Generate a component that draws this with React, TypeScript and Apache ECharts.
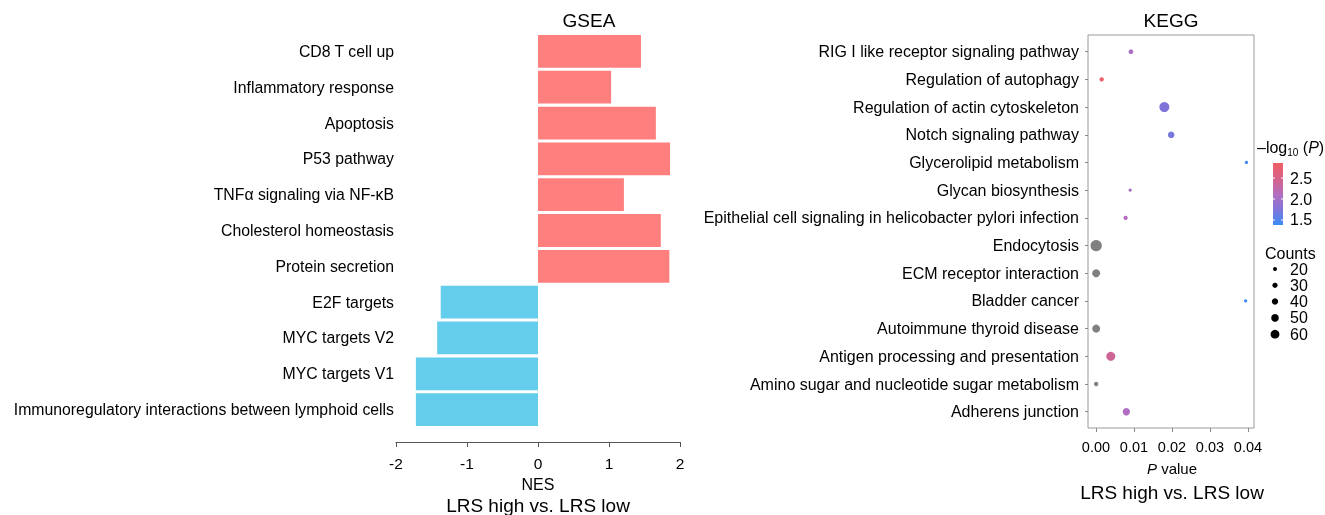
import React, { useEffect, useRef } from "react";
import * as echarts from "echarts";

const gseaTerms = [
  "CD8 T cell up",
  "Inflammatory response",
  "Apoptosis",
  "P53 pathway",
  "TNFα signaling via NF-κB",
  "Cholesterol homeostasis",
  "Protein secretion",
  "E2F targets",
  "MYC targets V2",
  "MYC targets V1",
  "Immunoregulatory interactions between lymphoid cells",
];
const gseaNES = [1.45, 1.03, 1.66, 1.86, 1.21, 1.73, 1.85, -1.37, -1.42, -1.72, -1.72];

const keggTerms = [
  "RIG I like receptor signaling pathway",
  "Regulation of autophagy",
  "Regulation of actin cytoskeleton",
  "Notch signaling pathway",
  "Glycerolipid metabolism",
  "Glycan biosynthesis",
  "Epithelial cell signaling in helicobacter pylori infection",
  "Endocytosis",
  "ECM receptor interaction",
  "Bladder cancer",
  "Autoimmune thyroid disease",
  "Antigen processing and presentation",
  "Amino sugar and nucleotide sugar metabolism",
  "Adherens junction",
];
const keggP = [0.0092, 0.0015, 0.018, 0.0198, 0.0396, 0.009, 0.0078, 0.00005, 0.00005, 0.0394, 0.00005, 0.0039, 0.00005, 0.008];
const keggCounts = [26, 23, 70, 42, 14, 14, 23, 81, 53, 14, 53, 62, 23, 48];
const pTicks = [0, 0.01, 0.02, 0.03, 0.04];
const colorTicks = [2.5, 2.0, 1.5];
const countTicks = [20, 30, 40, 50, 60];

const FONT = "'Liberation Sans', Arial, Helvetica, sans-serif";
const RED = "#FF7F7F";
const BLUE = "#63CDEB";
const GRAD = ["#3A8CF5", "#8075D8", "#B46DBF", "#D6628A", "#EF5F66"];
const NA_GRAY = "#808080";
const CMIN = 1.38;
const CMAX = 2.86;
const dotSize = (c: number) => 0.12 * c + 1.6;
const colorFor = (v: number) => {
  if (v > CMAX || v < CMIN) return NA_GRAY;
  return echarts.color.lerp((v - CMIN) / (CMAX - CMIN), GRAD) as string;
};

export default function App() {
  const ref = useRef<HTMLDivElement>(null);
  useEffect(() => {
    if (!ref.current) return;
    const chart = echarts.init(ref.current, null, { renderer: "svg" });

    const cbTop = 163, cbBottom = 225, cbX = 1273, cbW = 10;
    const cbY = (v: number) => cbBottom - ((v - CMIN) / (CMAX - CMIN)) * (cbBottom - cbTop);
    const txt = (x: number, y: number, text: string, size: number, align = "center") => ({
      type: "text", x, y,
      style: { text, font: `${size}px ${FONT}`, fill: "#000", align, verticalAlign: "middle" },
    });

    const graphics: any[] = [
      txt(589, 20, "GSEA", 19),
      txt(1171, 20, "KEGG", 19),
      txt(538, 484, "NES", 16),
      txt(538, 505, "LRS high vs. LRS low", 19),
      txt(1172, 492, "LRS high vs. LRS low", 19),
      {
        type: "text", x: 1172, y: 468,
        style: {
          text: "{i|P}{a| value}", align: "center", verticalAlign: "middle",
          rich: { i: { fontFamily: FONT, fontSize: 15, fontStyle: "italic", fill: "#000" }, a: { fontFamily: FONT, fontSize: 15, fill: "#000" } },
        },
      },
      {
        type: "text", x: 1257, y: 147,
        style: {
          text: "{a|–log}{s|10}{a| (}{i|P}{a|)}", align: "left", verticalAlign: "middle",
          rich: {
            a: { fontFamily: FONT, fontSize: 16, fill: "#000", lineHeight: 20, verticalAlign: "middle" },
            s: { fontFamily: FONT, fontSize: 10, fill: "#000", lineHeight: 10, verticalAlign: "bottom" },
            i: { fontFamily: FONT, fontSize: 16, fontStyle: "italic", fill: "#000", lineHeight: 20, verticalAlign: "middle" },
          },
        },
      },
      {
        type: "rect", shape: { x: cbX, y: cbTop, width: cbW, height: cbBottom - cbTop },
        style: {
          fill: new echarts.graphic.LinearGradient(0, 1, 0, 0, GRAD.map((c, i) => ({ offset: i / (GRAD.length - 1), color: c }))),
        },
      },
      txt(1265, 253, "Counts", 16, "left"),
    ];
    colorTicks.forEach((v) => {
      const y = cbY(v);
      graphics.push({ type: "line", shape: { x1: cbX, y1: y, x2: cbX + 2, y2: y }, style: { stroke: "#fff", lineWidth: 1 } });
      graphics.push({ type: "line", shape: { x1: cbX + cbW - 2, y1: y, x2: cbX + cbW, y2: y }, style: { stroke: "#fff", lineWidth: 1 } });
      graphics.push(txt(1290, y, v.toFixed(1), 16, "left"));
    });
    countTicks.forEach((c, i) => {
      const y = 269 + i * 16.3;
      graphics.push({ type: "circle", shape: { cx: 1275, cy: y, r: dotSize(c) / 2 }, style: { fill: "#000" } });
      graphics.push(txt(1290, y, String(c), 16, "left"));
    });

    chart.setOption({
      animation: false,
      textStyle: { fontFamily: FONT },
      grid: [
        { left: 396, right: 645, top: 33.5, bottom: 87.5 },
        { left: 1088, right: 71, top: 35, bottom: 87, show: true, borderColor: "#9a9a9a", borderWidth: 1, backgroundColor: "transparent" },
        { left: 1088, right: 71, top: 37.85, bottom: 89.45 },
      ],
      xAxis: [
        {
          type: "value", gridIndex: 0, min: -2, max: 2, interval: 1, offset: 14.5,
          axisLine: { show: true, onZero: false, lineStyle: { color: "#555", width: 1 } },
          axisTick: { show: true, length: 5, lineStyle: { color: "#555" } },
          axisLabel: { fontSize: 15.5, color: "#000", margin: 13, fontFamily: FONT },
          splitLine: { show: false },
        },
        { type: "value", gridIndex: 1, min: 0, max: 1, show: false },
        {
          type: "value", gridIndex: 2, min: -0.0021, max: 0.0416, offset: 2.5,
          axisLine: { show: false, onZero: false },
          axisTick: { show: true, length: 4, customValues: pTicks, lineStyle: { color: "#888" } },
          axisLabel: { customValues: pTicks, formatter: (v: number) => v.toFixed(2), fontSize: 14.5, color: "#000", margin: 11, fontFamily: FONT },
          splitLine: { show: false },
        },
      ],
      yAxis: [
        {
          type: "category", gridIndex: 0, data: gseaTerms, inverse: true,
          axisLine: { show: false, onZero: false },
          axisTick: { show: false },
          axisLabel: { fontSize: 15.8, color: "#000", margin: 2, fontFamily: FONT },
        },
        { type: "value", gridIndex: 1, min: 0, max: 1, show: false },
        {
          type: "category", gridIndex: 2, data: keggTerms, inverse: true,
          axisLine: { show: false, onZero: false },
          axisTick: { show: true, length: 3, alignWithLabel: true, lineStyle: { color: "#888" } },
          axisLabel: { fontSize: 16, color: "#000", margin: 9, fontFamily: FONT },
        },
      ],
      series: [
        {
          type: "bar", xAxisIndex: 0, yAxisIndex: 0, barCategoryGap: "8.5%",
          data: gseaNES.map((v) => ({ value: v, itemStyle: { color: v >= 0 ? RED : BLUE } })),
        },
        {
          type: "scatter", xAxisIndex: 2, yAxisIndex: 2,
          data: keggTerms.map((t, i) => {
            const nl = -Math.log10(keggP[i]);
            return { value: [keggP[i], t, keggCounts[i], nl], itemStyle: { color: colorFor(nl), opacity: 1 } };
          }),
          symbolSize: (v: any) => dotSize(v[2]),
        },
      ],
      graphic: graphics,
    });
    return () => chart.dispose();
  }, []);
  return <div ref={ref} style={{ position: "fixed", left: 0, top: 0, width: 1325, height: 515 }} />;
}
